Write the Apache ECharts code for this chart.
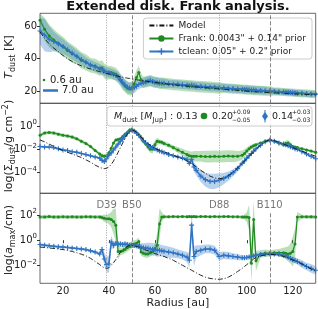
<!DOCTYPE html>
<html><head><meta charset="utf-8">
<script src="https://cdn.jsdelivr.net/npm/echarts@6/dist/echarts.min.js"></script>
<style>html,body{margin:0;padding:0;background:#fff}#c{width:318px;height:309px}</style>
</head><body><div id="c"></div>
<script>
// Radii (au)
const R = [10,12,14,16,18,20,22,24,26,28,30,32,34,36,
37,38,39,40,41,42,43,44,45,46,47,48,49,50,51,52,53,54,55,56,57,58,59,60,61,62,63,64,
66,68,70,72,74, 75,76,77,78, 80,82,84,86,88,90,92,94,96,98,
99,100,101,102,103,104, 106,108,110,112,114,116, 117,118,119,120,121,122, 124,126,128,130];

// Panel 1: dust temperature [K]
const T_model = [56.5,52.3,49.1,46.5,44.3,42.0,40.0,38.3,36.9,35.6,34.6,33.7,32.9,32.1,
31.7,31.3,30.9,30.6,30.2,29.9,29.6,29.3,29.0,28.7,28.4,28.1,27.9,27.6,27.4,27.1,26.9,26.7,26.5,26.3,26.1,25.9,25.7,25.5,25.3,25.1,24.9,24.7,
24.4,24.1,23.8,23.5,23.2, 23.1,23.0,22.9,22.7, 22.4,22.2,21.9,21.7,21.4,21.2,21.0,20.8,20.6,20.4,
20.3,20.1,20.0,19.9,19.8,19.7, 19.6,19.4,19.2,19.1,18.9,18.8, 18.7,18.6,18.6,18.5,18.4,18.4, 18.2,18.1,18.0,17.9];
const T_tclean = [57.0,54.5,52.0,50.5,49.0,47.5,45.5,43.5,41.5,39.5,37.8,36.2,35.0,33.8,
33.2,32.5,31.8,31.4,31.0,30.5,29.8,28.8,27.2,25.5,23.8,22.6,22.0,21.9,22.3,23.2,24.3,25.0,25.4,25.8,26.3,26.6,26.0,25.6,25.3,25.2,25.0,24.9,
24.6,24.4,24.3,24.0,23.8, 23.5,23.7,23.4,23.2, 23.1,22.9,22.6,22.5,22.3,22.1,21.8,21.7,21.5,21.3,
21.1,21.2,21.0,20.9,20.8,20.7, 20.6,20.4,20.2,20.0,19.8,19.6, 19.5,19.4,19.3,19.2,19.0,18.9, 18.8,18.6,18.4,18.3];
const T_frank = [63.5,58.0,54.0,51.5,49.5,47.5,45.0,43.0,41.5,39.0,37.8,36.0,35.5,34.0,
34.5,32.5,31.5,31.5,31.5,31.0,30.5,29.0,27.0,25.0,23.5,22.0,21.5,22.0,24.5,28.5,31.5,27.0,25.5,25.8,26.0,26.5,26.0,25.5,25.5,25.0,25.0,24.8,
24.5,24.2,24.0,23.8,23.5, 23.5,23.3,23.2,23.0, 22.8,22.7,22.5,22.3,22.1,22.0,21.8,21.6,21.4,21.2,
21.1,21.0,20.9,20.8,20.7,20.6, 20.5,20.3,20.1,19.9,19.8,19.6, 19.5,19.4,19.3,19.2,19.1,19.0, 18.8,18.7,18.5,18.4];
const T_frank_err = [5,7,7,6.5,6,6,5.5,5.5,5,5,5,4.5,4.5,4.5,
4.5,4.5,4.5,4,4,4,4,4,4,4,4,4,4,4,4.5,4.5,4,4,3.5,3.5,3.5,3.5,3.5,3.5,3.5,3.5,3.5,3.5,
3.5,3.5,3.5,3.5,3.5, 3.5,3.5,3.5,3.5, 3.5,3.5,3.5,3.5,3.5,3,3,3,3,3,
3,3,3,3,3,3, 3,3,3,2.5,2.5,2.5, 2.5,2.5,2.5,2.5,2.5,2.5, 2.5,2.5,2.5,2.5];
const T_tclean_err = [8,10,8,6,5,4.5,4,4,3.5,3.5,3,3,3,3,
3,3,3,3,3,3,3,3,3,3.5,3.5,3.5,3.5,3.5,3.5,3,3,3,3,3,3,3,3,3,3,3,3,3,
2.5,2.5,2.5,2.5,2.5, 2.5,2.5,2.5,2.5, 2.5,2.5,2.5,2.5,2.5,2.5,2.5,2.5,2.5,2.5,
2.5,2.5,2.5,2.5,2.5,2.5, 2.5,2.5,2,2,2,2, 2,2,2,2,2,2, 2,2,2,2];

// Panel 2: log10 surface density [g cm^-2]
const S_model = [-1.2,-1.35,-1.55,-1.75,-1.95,-2.1,-2.25,-2.4,-2.55,-2.7,-2.9,-3.1,-3.35,-3.55,
-3.62,-3.65,-3.62,-3.5,-3.3,-3.0,-2.65,-2.25,-1.85,-1.45,-1.05,-0.7,-0.45,-0.35,-0.4,-0.55,-0.75,-0.95,-1.15,-1.35,-1.5,-1.65,-1.8,-1.92,-2.0,-2.08,-2.15,-2.2,
-2.35,-2.5,-2.65,-2.8,-3.0, -3.1,-3.2,-3.35,-3.5, -3.8,-4.05,-4.3,-4.45,-4.52,-4.45,-4.25,-3.95,-3.6,-3.2,
-3.0,-2.8,-2.6,-2.4,-2.2,-2.0, -1.65,-1.35,-1.18,-1.25,-1.4,-1.55, -1.62,-1.7,-1.78,-1.85,-1.92,-2.0, -2.15,-2.3,-2.45,-2.6];
const S_tclean = [-1.75,-1.8,-1.8,-1.85,-1.95,-2.05,-2.1,-2.2,-2.25,-2.35,-2.45,-2.55,-2.65,-2.75,
-2.95,-3.05,-2.8,-2.5,-2.3,-2.05,-1.8,-1.55,-1.3,-1.1,-0.85,-0.6,-0.45,-0.35,-0.45,-0.6,-0.8,-1.0,-1.25,-1.45,-1.6,-1.75,-1.85,-1.95,-2.05,-2.15,-2.2,-2.3,
-2.45,-2.55,-2.65,-2.75,-2.85, -3.2,-2.85,-3.5,-3.8, -4.3,-4.6,-4.75,-4.75,-4.65,-4.5,-4.3,-4.0,-3.65,-3.2,
-3.0,-2.75,-2.55,-2.35,-2.15,-1.95, -1.65,-1.35,-1.2,-1.3,-1.45,-1.55, -1.6,-1.7,-1.78,-1.85,-1.95,-2.0, -2.2,-2.4,-2.6,-2.8];
const S_frank = [-0.8,-0.6,-0.55,-0.6,-0.7,-0.8,-0.85,-0.95,-1.1,-1.3,-1.5,-1.75,-2.1,-2.4,
-2.55,-2.6,-2.55,-2.3,-1.9,-1.45,-1.2,-1.15,-1.1,-0.9,-0.7,-0.55,-0.35,-0.3,-0.4,-0.55,-0.75,-1.0,-1.3,-1.55,-1.8,-2.0,-2.0,-1.6,-1.3,-1.35,-1.4,-1.5,
-1.65,-1.85,-2.05,-2.25,-2.45, -2.55,-2.6,-2.6,-2.6, -2.6,-2.62,-2.62,-2.6,-2.62,-2.6,-2.58,-2.6,-2.6,-2.5,
-2.35,-2.15,-1.95,-1.8,-1.7,-1.6, -1.45,-1.3,-1.2,-1.3,-1.45,-1.6, -1.5,-1.45,-1.6,-1.75,-1.8,-1.85, -1.95,-2.05,-2.15,-2.25];
const S_frank_err = [0.15,0.15,0.15,0.15,0.15,0.15,0.15,0.15,0.15,0.15,0.15,0.15,0.15,0.15,
0.2,0.2,0.2,0.2,0.2,0.15,0.15,0.15,0.15,0.15,0.15,0.15,0.15,0.15,0.15,0.15,0.15,0.15,0.15,0.15,0.25,0.3,0.35,0.35,0.3,0.2,0.2,0.2,
0.2,0.2,0.25,0.3,0.35, 0.4,0.4,0.45,0.45, 0.45,0.5,0.5,0.5,0.5,0.5,0.5,0.5,0.45,0.4,
0.35,0.3,0.25,0.2,0.2,0.15, 0.12,0.12,0.12,0.12,0.15,0.2, 0.25,0.25,0.2,0.15,0.12,0.12, 0.12,0.12,0.12,0.12];
const S_tclean_err = [0.08,0.08,0.08,0.08,0.08,0.08,0.08,0.08,0.08,0.08,0.08,0.08,0.08,0.08,
0.12,0.15,0.12,0.1,0.08,0.08,0.08,0.08,0.08,0.08,0.08,0.08,0.08,0.08,0.08,0.08,0.08,0.08,0.08,0.08,0.08,0.08,0.08,0.08,0.08,0.08,0.08,0.08,
0.08,0.08,0.08,0.1,0.12, 0.2,0.3,0.35,0.45, 0.5,0.6,0.65,0.65,0.6,0.5,0.4,0.3,0.25,0.2,
0.15,0.12,0.1,0.1,0.1,0.08, 0.08,0.08,0.08,0.08,0.08,0.08, 0.08,0.08,0.08,0.08,0.08,0.08, 0.08,0.08,0.08,0.08];

// Panel 3: log10 maximum grain size [cm]
const A_model = [-0.55,-0.58,-0.62,-0.66,-0.7,-0.75,-0.82,-0.9,-1.0,-1.12,-1.25,-1.45,-1.7,-1.95,
-2.1,-2.2,-2.25,-2.2,-2.0,-1.8,-1.55,-1.25,-0.95,-0.75,-0.6,-0.5,-0.42,-0.4,-0.45,-0.5,-0.55,-0.62,-0.7,-0.78,-0.85,-0.92,-1.0,-1.07,-1.12,-1.18,-1.24,-1.3,
-1.45,-1.6,-1.8,-2.0,-2.2, -2.3,-2.4,-2.5,-2.6, -2.8,-2.95,-3.05,-3.1,-3.12,-3.08,-2.95,-2.75,-2.5,-2.25,
-2.1,-1.95,-1.8,-1.65,-1.5,-1.38, -1.25,-1.18,-1.13,-1.15,-1.2,-1.3, -1.35,-1.42,-1.5,-1.58,-1.65,-1.72, -1.9,-2.1,-2.3,-2.5];
const A_tclean = [-0.35,-0.4,-0.45,-0.48,-0.52,-0.55,-0.58,-0.62,-0.66,-0.7,-0.75,-0.85,-0.95,-1.1,
-0.75,-1.5,-1.95,-1.9,-0.15,-0.4,-0.25,-0.3,-0.3,-0.35,-0.3,-0.35,-0.4,-0.4,-0.42,-0.45,-0.5,-0.55,-0.6,-0.62,-0.65,-0.7,-0.72,-0.75,-0.78,-0.8,-0.85,-0.88,
-0.95,-1.0,-1.1,-1.2,-1.35, -1.6,1.2,-1.3,-0.9, -0.8,-0.7,-0.7,-0.8,-1.3,-1.2,-1.25,-1.3,-1.35,-1.4,
-1.4,-1.38,-1.35,-1.3,-1.25,-1.2, -1.15,-1.1,-1.08,-1.1,-1.12,-1.2, -1.25,-1.35,-1.45,-1.55,-1.62,-1.7, -1.9,-2.1,-2.25,-2.4];
const A_frank = [1.85,1.85,1.88,1.85,1.85,1.87,1.85,1.86,1.85,1.85,1.87,1.86,1.85,1.85,
1.8,1.75,1.7,1.7,1.65,1.5,1.2,-0.9,-0.9,-0.85,-0.75,-0.6,-0.5,-0.35,-0.3,-0.25,-0.1,-0.95,-1.05,-1.1,-1.1,-1.0,-0.9,-0.7,-0.4,1.3,1.85,1.87,
1.86,1.88,1.87,1.88,1.87, 1.88,1.87,1.88,1.87, 1.88,1.88,1.87,1.88,1.87,1.88,1.88,1.87,1.86,1.85,
1.85,1.85,1.8,-1.85,1.65,-1.65, -1.1,-1.05,-1.05,-1.0,-1.0,-1.0, -1.05,-1.1,-1.05,-0.9,-0.3,1.85, 1.87,1.86,1.86,1.85];
const A_frank_err = [0.15,0.15,0.15,0.15,0.15,0.15,0.15,0.15,0.15,0.15,0.15,0.15,0.15,0.15,
0.2,0.3,0.3,0.4,0.6,1.0,1.3,0.6,0.3,0.3,0.3,0.3,0.3,0.3,0.3,0.3,0.3,0.3,0.3,0.3,0.3,0.3,0.3,0.4,1.0,1.2,0.4,0.15,
0.12,0.12,0.12,0.12,0.12, 0.12,0.12,0.12,0.12, 0.12,0.12,0.12,0.12,0.12,0.12,0.12,0.12,0.12,0.12,
0.2,0.4,1.0,1.5,1.5,0.8, 0.3,0.3,0.25,0.25,0.3,0.4, 0.5,0.6,0.8,1.2,1.2,0.4, 0.15,0.15,0.15,0.15];
const A_tclean_err = [0.1,0.1,0.1,0.1,0.1,0.1,0.1,0.1,0.1,0.1,0.1,0.1,0.1,0.1,
0.3,0.5,0.6,0.7,0.5,0.3,0.2,0.2,0.2,0.2,0.2,0.2,0.2,0.2,0.2,0.2,0.2,0.3,0.35,0.4,0.45,0.5,0.5,0.5,0.5,0.5,0.45,0.45,
0.45,0.4,0.35,0.35,0.4, 0.6,1.0,0.8,0.5, 0.4,0.35,0.35,0.35,0.35,0.3,0.3,0.25,0.25,0.2,
0.15,0.15,0.15,0.15,0.15,0.15, 0.15,0.15,0.15,0.15,0.15,0.15, 0.15,0.2,0.2,0.25,0.25,0.25, 0.3,0.3,0.35,0.35];

// Ring / gap locations
const ringR = [39, 50, 88, 110];
const ringLabels = ['D39', 'B50', 'D88', 'B110'];
const ringStyle = ['dotted', 'dashed', 'dotted', 'dashed'];

// Ticks
const xTicks = [20, 40, 60, 80, 100, 120];
const tTicks = [20, 40, 60];
const sTicks = [-4, -2, 0];
const aTicks = [-2, 0, 2];

const names = ['Model', 'Frank: 0.0043" + 0.14" prior', 'tclean: 0.05" + 0.2" prior'];
const GREEN = '#1f8a1f', BLUE = '#2f74c2';
const GBAND = 'rgba(60,170,60,0.36)', BBAND = 'rgba(50,120,200,0.34)';
const PLUS = 'path://M-0.22,-1H0.22V-0.22H1V0.22H0.22V1H-0.22V0.22H-1V-0.22H-0.22Z';
const FONT = 'DejaVu Sans';

const ranges = [[12.7, 67.8], [-5.77, 1.95], [-3.44, 3.74]];
const tops = [13.3, 103.3, 193.3];

function band(gi, vals, errs, color) {
  const lo = ranges[gi][0], hi = ranges[gi][1];
  const pts = R.map((r, i) => [r, Math.max(lo, vals[i] - errs[i]), Math.min(hi, vals[i] + errs[i])]);
  return {
    type: 'custom', xAxisIndex: gi, yAxisIndex: gi, z: 1, silent: true, data: pts,
    encode: { x: 0, y: [1, 2] },
    renderItem: (params, api) => {
      if (params.dataIndex !== 0) return null;
      const up = pts.map(p => api.coord([p[0], p[2]]));
      const dn = pts.map(p => api.coord([p[0], p[1]])).reverse();
      return { type: 'polygon', shape: { points: up.concat(dn) }, style: { fill: color } };
    }
  };
}
function line(gi, kind, vals) {
  const s = { type: 'line', xAxisIndex: gi, yAxisIndex: gi, data: R.map((r, i) => [r, vals[i]]), animation: false };
  if (kind === 0) Object.assign(s, { name: names[0], z: 5, symbol: 'none', lineStyle: { color: '#111', width: 0.9, type: [5, 2, 1, 2] }, itemStyle: { color: '#111' } });
  if (kind === 1) Object.assign(s, { name: names[1], z: 3, symbol: 'circle', symbolSize: 3, showAllSymbol: true, lineStyle: { color: GREEN, width: 1.2 }, itemStyle: { color: GREEN } });
  if (kind === 2) Object.assign(s, { name: names[2], z: 4, symbol: PLUS, symbolSize: 5, showAllSymbol: true, lineStyle: { color: BLUE, width: 1.5 }, itemStyle: { color: BLUE } });
  return s;
}
function vlines(gi) {
  const data = ringR.map((r, k) => {
    const ls = { color: ringStyle[k] === 'dotted' ? '#999' : '#777', width: 0.9, type: ringStyle[k] === 'dotted' ? [1, 1.5] : [4, 2] };
    if (gi < 2) return { xAxis: r, lineStyle: ls, label: { show: false } };
    return [{ coord: [r, ranges[2][0]], lineStyle: ls, label: { show: true, position: 'end', formatter: ringLabels[k], color: '#777', fontSize: 10, fontFamily: FONT, distance: 2 } }, { coord: [r, 2.2] }];
  });
  return { type: 'line', xAxisIndex: gi, yAxisIndex: gi, data: [], z: 0, silent: true,
    markLine: { silent: true, symbol: 'none', animation: false, data } };
}

const supRich = {
  b: { fontSize: 10, lineHeight: 14, fontFamily: FONT, color: '#222' },
  e: { fontSize: 7, lineHeight: 7, verticalAlign: 'top', fontFamily: FONT, color: '#222' }
};

const yAxes = [0, 1, 2].map(gi => {
  const ticks = [tTicks, sTicks, aTicks][gi];
  const ax = {
    type: 'value', gridIndex: gi, min: ranges[gi][0], max: ranges[gi][1],
    axisLine: { show: false }, splitLine: { show: false },
    axisTick: { show: true, length: 3, customValues: ticks, lineStyle: { color: '#333' } },
    axisLabel: { customValues: ticks, fontSize: 10, fontFamily: FONT, color: '#222', margin: 3 }
  };
  if (gi > 0) {
    ax.axisLabel.formatter = v => '{b|10}{e|' + (v < 0 ? '−' + Math.abs(v) : String(v)) + '}';
    ax.axisLabel.rich = supRich;
  }
  return ax;
});
const xAxes = [0, 1, 2].map(gi => ({
  type: 'value', gridIndex: gi, min: 10, max: 130,
  axisLine: { show: false }, splitLine: { show: false },
  axisTick: { show: gi === 2, length: 3, customValues: xTicks, lineStyle: { color: '#333' } },
  axisLabel: { show: gi === 2, customValues: xTicks, fontSize: 10, fontFamily: FONT, color: '#222', margin: 3 },
  name: gi === 2 ? 'Radius [au]' : '', nameLocation: 'middle', nameGap: 14,
  nameTextStyle: { fontSize: 11, fontFamily: FONT, color: '#222' }
}));

const series = [
  vlines(0), vlines(1), vlines(2),
  band(0, T_frank, T_frank_err, GBAND), band(0, T_tclean, T_tclean_err, BBAND),
  band(1, S_frank, S_frank_err, GBAND), band(1, S_tclean, S_tclean_err, BBAND),
  band(2, A_frank, A_frank_err, GBAND), band(2, A_tclean, A_tclean_err, BBAND),
  line(0, 1, T_frank), line(0, 2, T_tclean), line(0, 0, T_model),
  line(1, 1, S_frank), line(1, 2, S_tclean), line(1, 0, S_model),
  line(2, 1, A_frank), line(2, 2, A_tclean), line(2, 0, A_model)
];

const txt = (text, x, y, size, extra) => ({ type: 'text', z: 100, style: Object.assign({ text, x, y, fill: '#222', font: size + 'px "' + FONT + '"', verticalAlign: 'middle' }, extra || {}) });

const nameRich = {
  n: { fontSize: 11, lineHeight: 15, fontFamily: FONT, fill: '#222' },
  i: { fontSize: 11, lineHeight: 15, fontFamily: FONT, fontStyle: 'italic', fill: '#222' },
  sub: { fontSize: 8, lineHeight: 8, verticalAlign: 'bottom', fontFamily: FONT, fill: '#222' },
  sup: { fontSize: 8, lineHeight: 8, verticalAlign: 'top', fontFamily: FONT, fill: '#222' }
};
const yName = (text, cy) => ({ type: 'text', z: 100, x: 9, y: cy, rotation: Math.PI / 2,
  style: { text, rich: nameRich, align: 'center', verticalAlign: 'middle', textAlign: 'center', textVerticalAlign: 'middle' } });

const graphic = [
  txt('Extended disk. Frank analysis.', 178, 7, 13, { textAlign: 'center', font: 'bold 13px "' + FONT + '"', fill: '#111' }),
  yName('{i|T}{sub|dust}{n| [K]}', 57),
  yName('{n|log(Σ}{sub|dust}{n|/g cm}{sup|−2}{n|)}', 146),
  yName('{n|log(}{i|a}{sub|max}{n|/cm)}', 240),
  // beam size labels
  { type: 'circle', z: 100, shape: { cx: 44, cy: 80, r: 1.3 }, style: { fill: GREEN } },
  txt('0.6 au', 50, 80, 10),
  { type: 'line', z: 100, shape: { x1: 43, y1: 90.5, x2: 58, y2: 90.5 }, style: { stroke: BLUE, lineWidth: 2.5 } },
  txt('7.0 au', 62, 90.5, 10),
  // mass legend
  { type: 'rect', z: 99, shape: { x: 107, y: 106.5, width: 205, height: 19.5, r: 3 }, style: { fill: 'rgba(255,255,255,0.85)', stroke: '#ccc', lineWidth: 1 } },
  { type: 'text', z: 100, style: { x: 114, y: 116.5, verticalAlign: 'middle', text: '{i|M}{s|dust}{n| [}{i|M}{s|Jup}{n|] : 0.13}',
    rich: { n: { fontSize: 9.5, fontFamily: FONT, fill: '#222', lineHeight: 14 }, i: { fontSize: 9.5, fontStyle: 'italic', fontFamily: FONT, fill: '#222', lineHeight: 14 }, s: { fontSize: 7, fontFamily: FONT, fill: '#222', lineHeight: 7, verticalAlign: 'bottom' } } } },
  { type: 'circle', z: 100, shape: { cx: 204, cy: 116, r: 3.3 }, style: { fill: GREEN } },
  txt('0.20', 212, 116.5, 9.5),
  txt('+0.09', 232, 112.5, 6),
  txt('−0.05', 232, 120, 6),
  { type: 'line', z: 100, shape: { x1: 265, y1: 110, x2: 265, y2: 122.5 }, style: { stroke: BLUE, lineWidth: 1 } },
  { type: 'polygon', z: 100, shape: { points: [[265, 112], [268, 116.3], [265, 120.6], [262, 116.3]] }, style: { fill: BLUE } },
  txt('0.14', 272, 116.5, 9.5),
  txt('+0.03', 292, 112.5, 6),
  txt('−0.03', 292, 120, 6)
];

const chart = echarts.init(document.getElementById('c'), null, { renderer: 'canvas' });
chart.setOption({
  animation: false,
  backgroundColor: '#fff',
  textStyle: { fontFamily: FONT },
  grid: tops.map((t, i) => ({ left: 40, right: 2.3, top: t, height: 90, show: true, borderColor: '#444', borderWidth: 0.8, backgroundColor: 'transparent', containLabel: false, outerBoundsMode: 'none' })),
  xAxis: xAxes,
  yAxis: yAxes,
  legend: {
    data: [{ name: names[0], itemStyle: { opacity: 0 } }, names[1], names[2]],
    orient: 'vertical', right: 6, top: 18, itemWidth: 24, itemHeight: 8, itemGap: 4,
    padding: [3, 6, 3, 5], backgroundColor: 'rgba(255,255,255,0.85)', borderColor: '#ccc', borderWidth: 1, borderRadius: 3,
    textStyle: { fontSize: 9, fontFamily: FONT, color: '#222' }, selectedMode: false
  },
  graphic,
  series
});
</script></body></html>
